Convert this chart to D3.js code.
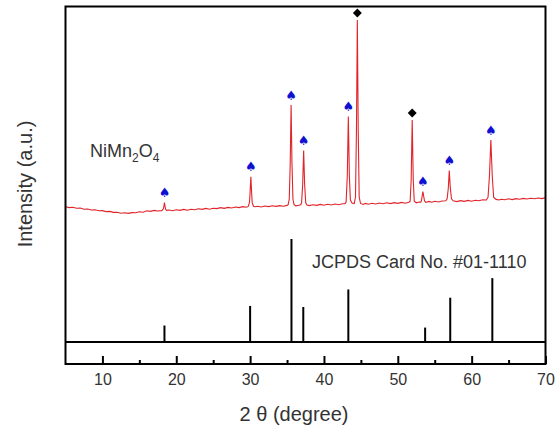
<!DOCTYPE html>
<html>
<head>
<meta charset="utf-8">
<script src="https://cdn.jsdelivr.net/npm/d3@7"></script>
<style>
  body { margin: 0; background: #fff; }
  svg { display: block; font-family: "Liberation Sans", Arial, sans-serif; }
</style>
</head>
<body>
<div id="chart"></div>
<script>
// measured XRD pattern of the sample, [2theta, intensity a.u.]
const xrdPattern = [
  [5.0, 6.6], [5.5, 6.2], [6.0, 6.4], [6.5, 5.9], [7.0, 6.0], [7.5, 5.4], [8.0, 5.5],
  [8.5, 5.0], [9.0, 5.1], [9.5, 4.6], [10.0, 4.7], [10.5, 4.2], [11.0, 4.3], [11.5, 3.8],
  [12.0, 3.9], [12.5, 3.4], [13.0, 3.6], [13.5, 3.3], [14.0, 3.7], [14.5, 3.6], [15.0, 4.1],
  [15.5, 3.9], [16.0, 4.6], [16.5, 4.3], [17.0, 4.8], [17.5, 4.5], [18.0, 4.7],
  [18.1, 4.9], [18.25, 5.6], [18.33, 7.0], [18.4, 8.7], [18.47, 7.0], [18.55, 5.5], [18.7, 4.8],
  [19.0, 5.0], [19.5, 4.6], [20.0, 5.1], [20.5, 4.8], [21.0, 5.3], [21.5, 4.9], [22.0, 5.4],
  [22.5, 5.1], [23.0, 5.6], [23.5, 5.3], [24.0, 5.8], [24.5, 5.4], [25.0, 5.9], [25.5, 5.7],
  [26.0, 6.2], [26.5, 5.8], [27.0, 6.3], [27.5, 6.0], [28.0, 6.5], [28.5, 6.2], [29.0, 6.7],
  [29.5, 6.4], [29.75, 6.8], [29.92, 8.8], [30.0, 14], [30.1, 21.6], [30.2, 14], [30.28, 8.8],
  [30.45, 6.9], [30.7, 6.6], [31.0, 6.9], [31.5, 6.5], [32.0, 7.0], [32.5, 6.7], [33.0, 7.1],
  [33.5, 6.8], [34.0, 7.2], [34.5, 6.9], [35.0, 7.3],
  [35.15, 7.7], [35.3, 10.5], [35.43, 28], [35.55, 57.5], [35.67, 28], [35.8, 10.5], [35.95, 7.7],
  [36.2, 7.1], [36.6, 7.4], [36.85, 7.6],
  [36.97, 8.6], [37.12, 18], [37.25, 34.7], [37.38, 18], [37.53, 8.6],
  [37.7, 7.5], [38.0, 7.2], [38.5, 7.6], [39.0, 7.3], [39.5, 7.8], [40.0, 7.4], [40.5, 7.9],
  [41.0, 7.5], [41.5, 8.0], [42.0, 7.6], [42.5, 8.1], [42.85, 8.2],
  [43.0, 9.0], [43.16, 22], [43.3, 51.7], [43.44, 22], [43.58, 10],
  [43.8, 8.5], [44.1, 8.2], [44.27, 11.5], [44.4, 45], [44.52, 100], [44.64, 45], [44.77, 11.5],
  [44.95, 8.3], [45.3, 7.8], [45.6, 8.3], [46.0, 7.9], [46.5, 8.4], [47.0, 8.0], [47.5, 8.5],
  [48.0, 8.1], [48.5, 8.6], [49.0, 8.2], [49.5, 8.7], [50.0, 8.3], [50.5, 8.8], [51.0, 8.4],
  [51.5, 8.9], [51.67, 9.4], [51.81, 20], [51.95, 50], [52.09, 20], [52.23, 9.4],
  [52.5, 8.6], [52.9, 9.0], [53.1, 8.9],
  [53.2, 9.6], [53.3, 12], [53.4, 14.2], [53.5, 12], [53.62, 9.5],
  [53.8, 8.8], [54.2, 9.3], [54.6, 8.9], [55.0, 9.4], [55.5, 9.0], [56.0, 9.5], [56.5, 9.6],
  [56.68, 10.6], [56.84, 16], [56.97, 24.7], [57.11, 16], [57.27, 10.6],
  [57.5, 9.6], [58.0, 9.2], [58.5, 9.7], [59.0, 9.3], [59.5, 9.8], [60.0, 9.4], [60.5, 9.9],
  [61.0, 9.6], [61.5, 10.1], [62.0, 10.0],
  [62.22, 11.4], [62.41, 22], [62.6, 40], [62.79, 22], [62.98, 11.4],
  [63.3, 10.3], [63.7, 10.0], [64.0, 10.4], [64.5, 10.1], [65.0, 10.6], [65.5, 10.2],
  [66.0, 10.7], [66.5, 10.4], [67.0, 10.8], [67.5, 10.5], [68.0, 10.9], [68.5, 10.6],
  [69.0, 11.0], [69.5, 10.7], [70.0, 11.2]
];

// peaks marked as spinel (spade) and as impurity (diamond)
const spinelPeaks = [18.4, 30.1, 35.55, 37.25, 43.3, 53.4, 56.97, 62.6];
const impurityPeaks = [44.52, 51.95];

// JCPDS #01-1110 reference lines
const cardPositions = [18.4, 30.0, 35.6, 37.2, 43.3, 53.7, 57.1, 62.8];
const cardIntensities = [16, 35, 100, 34, 51, 14, 43, 62];

const majorTicks = [10, 20, 30, 40, 50, 60, 70];
const minorTicks = [15, 25, 35, 45, 55, 65];

const width = 560;
const height = 436;
const frame = { left: 65.5, right: 545.5, top: 6.5, bottom: 364, split: 342 };

const svg = d3.select("#chart")
  .append("svg")
  .attr("width", width)
  .attr("height", height);

const x = d3.scaleLinear().domain([5, 70]).range([frame.left, frame.right]);
const yPattern = d3.scaleLinear().domain([0, 100]).range([220, 20]);
const yCard = d3.scaleLinear().domain([0, 100]).range([frame.split, 239]);

// Reference sticks
svg.append("g")
  .selectAll("line.card")
  .data(cardPositions)
  .join("line")
  .attr("class", "card")
  .attr("x1", (d) => x(d))
  .attr("x2", (d) => x(d))
  .attr("y1", yCard(0))
  .attr("y2", (d, i) => yCard(cardIntensities[i]))
  .attr("stroke", "#000")
  .attr("stroke-width", 2);

// Measured pattern
const line = d3.line()
  .x((d) => x(d[0]))
  .y((d) => yPattern(d[1]));

svg.append("path")
  .datum(xrdPattern)
  .attr("d", line)
  .attr("fill", "none")
  .attr("stroke", "#e0242a")
  .attr("stroke-width", 1.1);

function peakTop(pos) {
  return d3.max(xrdPattern.filter((d) => Math.abs(d[0] - pos) < 0.06), (d) => d[1]);
}

svg.append("g")
  .selectAll("text.spade")
  .data(spinelPeaks)
  .join("text")
  .attr("class", "spade")
  .attr("x", (d) => x(d))
  .attr("y", (d) => yPattern(peakTop(d)) - 10)
  .attr("text-anchor", "middle")
  .attr("dominant-baseline", "central")
  .style("font-family", "DejaVu Sans")
  .style("font-size", "13px")
  .attr("fill", "#1010d0")
  .text("\u2660");

svg.append("g")
  .selectAll("path.diamond")
  .data(impurityPeaks)
  .join("path")
  .attr("class", "diamond")
  .attr("d", d3.symbol(d3.symbolSquare, 40))
  .attr("transform", (d) => `translate(${x(d)},${yPattern(peakTop(d)) - 7}) rotate(45)`)
  .attr("fill", "#000");

// Frame and divider
svg.append("rect")
  .attr("x", frame.left)
  .attr("y", frame.top)
  .attr("width", frame.right - frame.left)
  .attr("height", frame.bottom - frame.top)
  .attr("fill", "none")
  .attr("stroke", "#000")
  .attr("stroke-width", 2);

svg.append("line")
  .attr("x1", frame.left)
  .attr("x2", frame.right)
  .attr("y1", frame.split)
  .attr("y2", frame.split)
  .attr("stroke", "#000")
  .attr("stroke-width", 2);

// X axis, ticks pointing inward
const xAxis = svg.append("g")
  .attr("transform", `translate(0,${frame.bottom})`)
  .call(d3.axisBottom(x).tickValues(majorTicks).tickSize(-8).tickPadding(10).tickFormat(d3.format("d")));
xAxis.select(".domain").remove();
xAxis.selectAll("line").attr("stroke-width", 2);
xAxis.selectAll("text")
  .style("font-size", "16px")
  .style("font-family", "Liberation Sans, Arial, sans-serif")
  .attr("fill", "#333");

const xMinor = svg.append("g")
  .attr("transform", `translate(0,${frame.bottom})`)
  .call(d3.axisBottom(x).tickValues(minorTicks).tickSize(-4).tickFormat(""));
xMinor.select(".domain").remove();
xMinor.selectAll("line").attr("stroke-width", 2);

// Labels
svg.append("text")
  .attr("x", 294)
  .attr("y", 421)
  .attr("text-anchor", "middle")
  .style("font-size", "20px")
  .attr("fill", "#333")
  .text("2 \u03B8 (degree)");

svg.append("text")
  .attr("transform", "translate(32,184) rotate(-90)")
  .attr("text-anchor", "middle")
  .style("font-size", "20px")
  .attr("fill", "#333")
  .text("Intensity (a.u.)");

const sample = svg.append("text")
  .attr("x", 90)
  .attr("y", 157)
  .style("font-size", "18px")
  .attr("fill", "#333");
sample.append("tspan").text("NiMn");
sample.append("tspan").attr("dy", 5).style("font-size", "12px").text("2");
sample.append("tspan").attr("dy", -5).text("O");
sample.append("tspan").attr("dy", 5).style("font-size", "12px").text("4");

svg.append("text")
  .attr("x", 312)
  .attr("y", 268)
  .style("font-size", "18px")
  .attr("fill", "#333")
  .text("JCPDS Card No. #01-1110");
</script>
</body>
</html>
